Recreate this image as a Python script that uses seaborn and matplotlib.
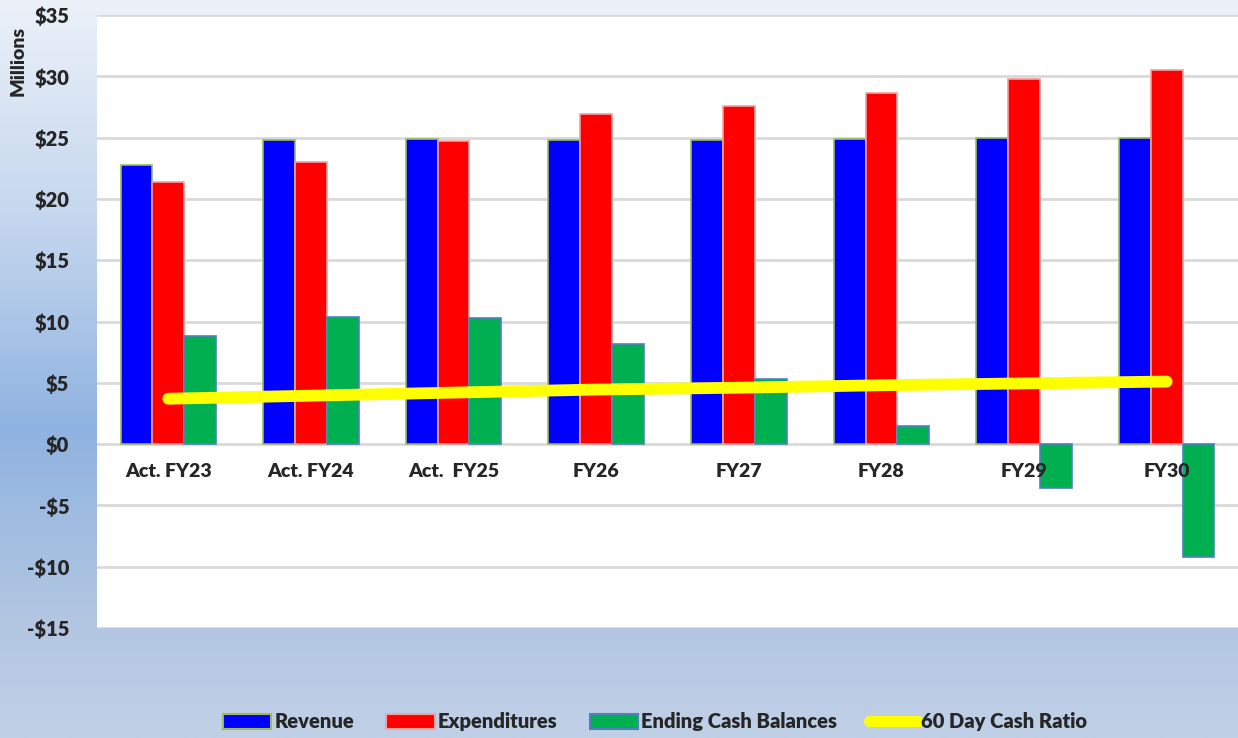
import matplotlib
matplotlib.use("Agg")
import matplotlib.pyplot as plt
import matplotlib.patches as mpatches
import matplotlib.lines as mlines
from matplotlib.colors import LinearSegmentedColormap
import numpy as np
import pandas as pd
import seaborn as sns

# datos (millones de $)
categories = ["Act. FY23", "Act. FY24", "Act.  FY25", "FY26", "FY27", "FY28", "FY29", "FY30"]
revenue = [22.8, 24.8, 24.9, 24.8, 24.8, 24.9, 25.0, 25.0]
expenditures = [21.4, 23.0, 24.7, 26.9, 27.6, 28.6, 29.8, 30.5]
ending_cash = [8.8, 10.4, 10.3, 8.2, 5.3, 1.45, -3.6, -9.2]
cash_ratio = [3.7, 3.95, 4.2, 4.45, 4.6, 4.8, 4.95, 5.1]
series_names = ["Revenue", "Expenditures", "Ending Cash Balances"]
y_ticks = [-15, -10, -5, 0, 5, 10, 15, 20, 25, 30, 35]

df = pd.DataFrame({
    "categoria": categories * 3,
    "serie": np.repeat(series_names, len(categories)),
    "valor": revenue + expenditures + ending_cash,
})

colores = {"Revenue": "#0000FF", "Expenditures": "#FF0000", "Ending Cash Balances": "#00B050"}
bordes = {"Revenue": "#9BBB59", "Expenditures": "#F2A0A0", "Ending Cash Balances": "#4F81BD"}

sns.set_theme(style="white")
plt.rcParams["font.family"] = ["Lato", "DejaVu Sans"]
plt.rcParams["font.weight"] = "bold"

fig = plt.figure(figsize=(12.38, 7.38), dpi=100)

# fondo degradado
bg = fig.add_axes([0, 0, 1, 1], zorder=-10)
cmap = LinearSegmentedColormap.from_list("fondo", [
    (0.0, "#ECF1F9"), (0.3, "#C4D6EE"), (0.58, "#8FB3E0"),
    (0.85, "#B3C7E2"), (1.0, "#C0D0E7")])
grad = np.linspace(0, 1, 256).reshape(-1, 1)
bg.imshow(grad, aspect="auto", cmap=cmap, extent=[0, 1, 0, 1], origin="upper")
bg.set_axis_off()

ax = fig.add_axes([97 / 1238, 1 - 628 / 738, 1 - 97 / 1238, (628 - 15) / 738])
ax.set_facecolor("white")

sns.barplot(data=df, x="categoria", y="valor", hue="serie", hue_order=series_names,
            palette=colores, saturation=1, width=0.67, errorbar=None, ax=ax, legend=False)
for cont, nombre in zip(ax.containers, series_names):
    for barra in cont:
        barra.set_edgecolor(bordes[nombre])
        barra.set_linewidth(1.2)

sns.lineplot(x=list(range(len(categories))), y=cash_ratio, ax=ax, color="#FFFF00",
             linewidth=8.5, solid_capstyle="round", zorder=5)

ax.set_xlim(-0.5, len(categories) - 0.5)
ax.set_ylim(-15, 35)
ax.set_yticks(y_ticks)
ax.set_yticklabels([f"${v}" if v >= 0 else f"-${-v}" for v in y_ticks],
                   fontsize=14.5, fontweight="heavy")
ax.tick_params(axis="y", length=0, pad=20)
ax.set_xticks([])
ax.set_xlabel("")
ax.set_ylabel("")
for v in y_ticks:
    ax.axhline(v, color="#D9D9D9", linewidth=2, zorder=0.5)
for s in ax.spines.values():
    s.set_visible(False)

# etiquetas de categoria junto a la linea de cero
for i, cat in enumerate(categories):
    ax.text(i, -2.2, cat, ha="center", va="center", fontsize=14, fontweight="heavy")

fig.text(0.0145, 0.917, "Millions", rotation=90, ha="center", va="center",
         fontsize=14, fontweight="heavy")

handles = [mpatches.Patch(facecolor=colores[n], edgecolor=bordes[n], linewidth=1.5, label=n)
           for n in series_names]
handles.append(mlines.Line2D([], [], color="#FFFF00", linewidth=8, solid_capstyle="round",
                             label="60 Day Cash Ratio"))
fig.legend(handles=handles, loc="center", bbox_to_anchor=(0.529, 0.022), ncol=4,
           frameon=False, handlelength=2.4, handleheight=0.8,
           handletextpad=0.15, columnspacing=1.6, prop={"weight": "heavy", "size": 14.5})

fig.savefig("out.png", dpi=100)
